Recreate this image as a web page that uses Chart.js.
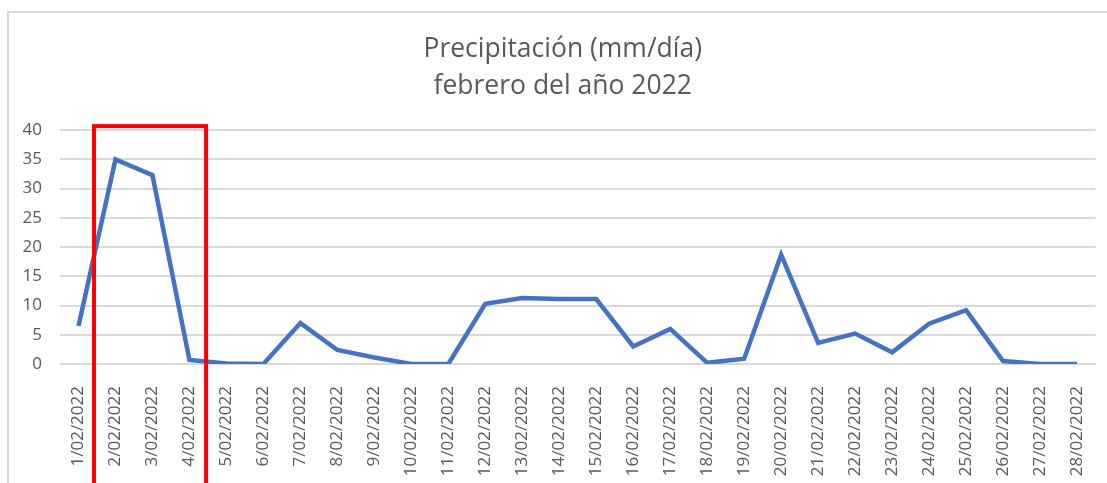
<!DOCTYPE html>
<html>
<head>
<meta charset="utf-8">
<script src="https://cdn.jsdelivr.net/npm/chart.js@4/dist/chart.umd.min.js"></script>
<style>
  html, body { margin: 0; padding: 0; background: #fff; }
  #wrap { position: relative; width: 1107px; height: 483px; overflow: hidden; }
  #frame { position: absolute; left: 7px; top: 11px; width: 1110px; height: 480px;
           border-left: 2px solid #d9d9d9; border-top: 2px solid #d9d9d9; }
  canvas { position: absolute; left: 0; top: 0; }
</style>
</head>
<body>
<div id="wrap">
  <div id="frame"></div>
  <canvas id="lineChart" width="1107" height="483"></canvas>
</div>
<script>
const days = [
  "1/02/2022", "2/02/2022", "3/02/2022", "4/02/2022", "5/02/2022", "6/02/2022", "7/02/2022",
  "8/02/2022", "9/02/2022", "10/02/2022", "11/02/2022", "12/02/2022", "13/02/2022", "14/02/2022",
  "15/02/2022", "16/02/2022", "17/02/2022", "18/02/2022", "19/02/2022", "20/02/2022", "21/02/2022",
  "22/02/2022", "23/02/2022", "24/02/2022", "25/02/2022", "26/02/2022", "27/02/2022", "28/02/2022"
];
const rain = [
  6.5, 35.0, 32.3, 0.7, 0.1, 0, 7.0,
  2.4, 1.1, 0, 0, 10.3, 11.3, 11.1,
  11.1, 3.0, 6.0, 0.2, 0.9, 18.7, 3.6,
  5.2, 2.0, 6.9, 9.2, 0.5, 0, 0
];
const yTicks = [0, 5, 10, 15, 20, 25, 30, 35, 40];
const titleLines = ["Precipitación (mm/día)", "febrero del año 2022"];
// highlighted span (category index range) and top value of the red box
const boxFrom = 0.42, boxTo = 3.45, boxTop = 40.7;

const redBox = {
  id: "redBox",
  afterLayout(chart) {
    // title is centred over the framed area, not the whole canvas
    chart.titleBlock.left += 30;
  },
  afterDraw(chart) {
    const { ctx, scales: { x, y } } = chart;
    const l = x.getPixelForValue(boxFrom);
    const r = x.getPixelForValue(boxTo);
    const t = y.getPixelForValue(boxTop);
    ctx.save();
    ctx.strokeStyle = "#ff0000";
    ctx.lineWidth = 4;
    ctx.strokeRect(l, t, r - l, chart.height + 20 - t);
    ctx.restore();
  }
};

new Chart(document.getElementById("lineChart"), {
  type: "line",
  data: {
    labels: days,
    datasets: [{
      label: "Precipitación",
      data: rain,
      borderColor: "#4472c4",
      borderWidth: 4.5,
      pointRadius: 0,
      tension: 0,
      fill: false
    }]
  },
  options: {
    responsive: false,
    animation: false,
    layout: { padding: { left: 0, right: 11.5, top: 0, bottom: 0 } },
    plugins: {
      legend: { display: false },
      tooltip: { enabled: false },
      title: {
        display: true,
        text: titleLines,
        color: "#595959",
        font: { family: "'Open Sans', sans-serif", size: 26.5, weight: "normal", lineHeight: 1.4 },
        padding: { top: 31, bottom: 25 }
      }
    },
    scales: {
      x: {
        offset: true,
        grid: { display: false },
        border: { display: false },
        ticks: {
          color: "#595959",
          font: { family: "'Open Sans', sans-serif", size: 17 },
          minRotation: 90,
          maxRotation: 90,
          autoSkip: false,
          padding: 14
        },
        afterFit(scale) {
          scale.height = 119;
          scale.paddingLeft = 0;
          scale.paddingRight = 0;
        }
      },
      y: {
        min: 0,
        max: 40,
        afterBuildTicks(scale) { scale.ticks = yTicks.map(v => ({ value: v })); },
        grid: { color: "#d9d9d9", lineWidth: 2, drawTicks: false },
        border: { display: false },
        ticks: {
          color: "#595959",
          font: { family: "'Open Sans', sans-serif", size: 17 },
          padding: 18
        },
        afterFit(scale) { scale.width = 60; }
      }
    }
  },
  plugins: [redBox]
});
</script>
</body>
</html>
